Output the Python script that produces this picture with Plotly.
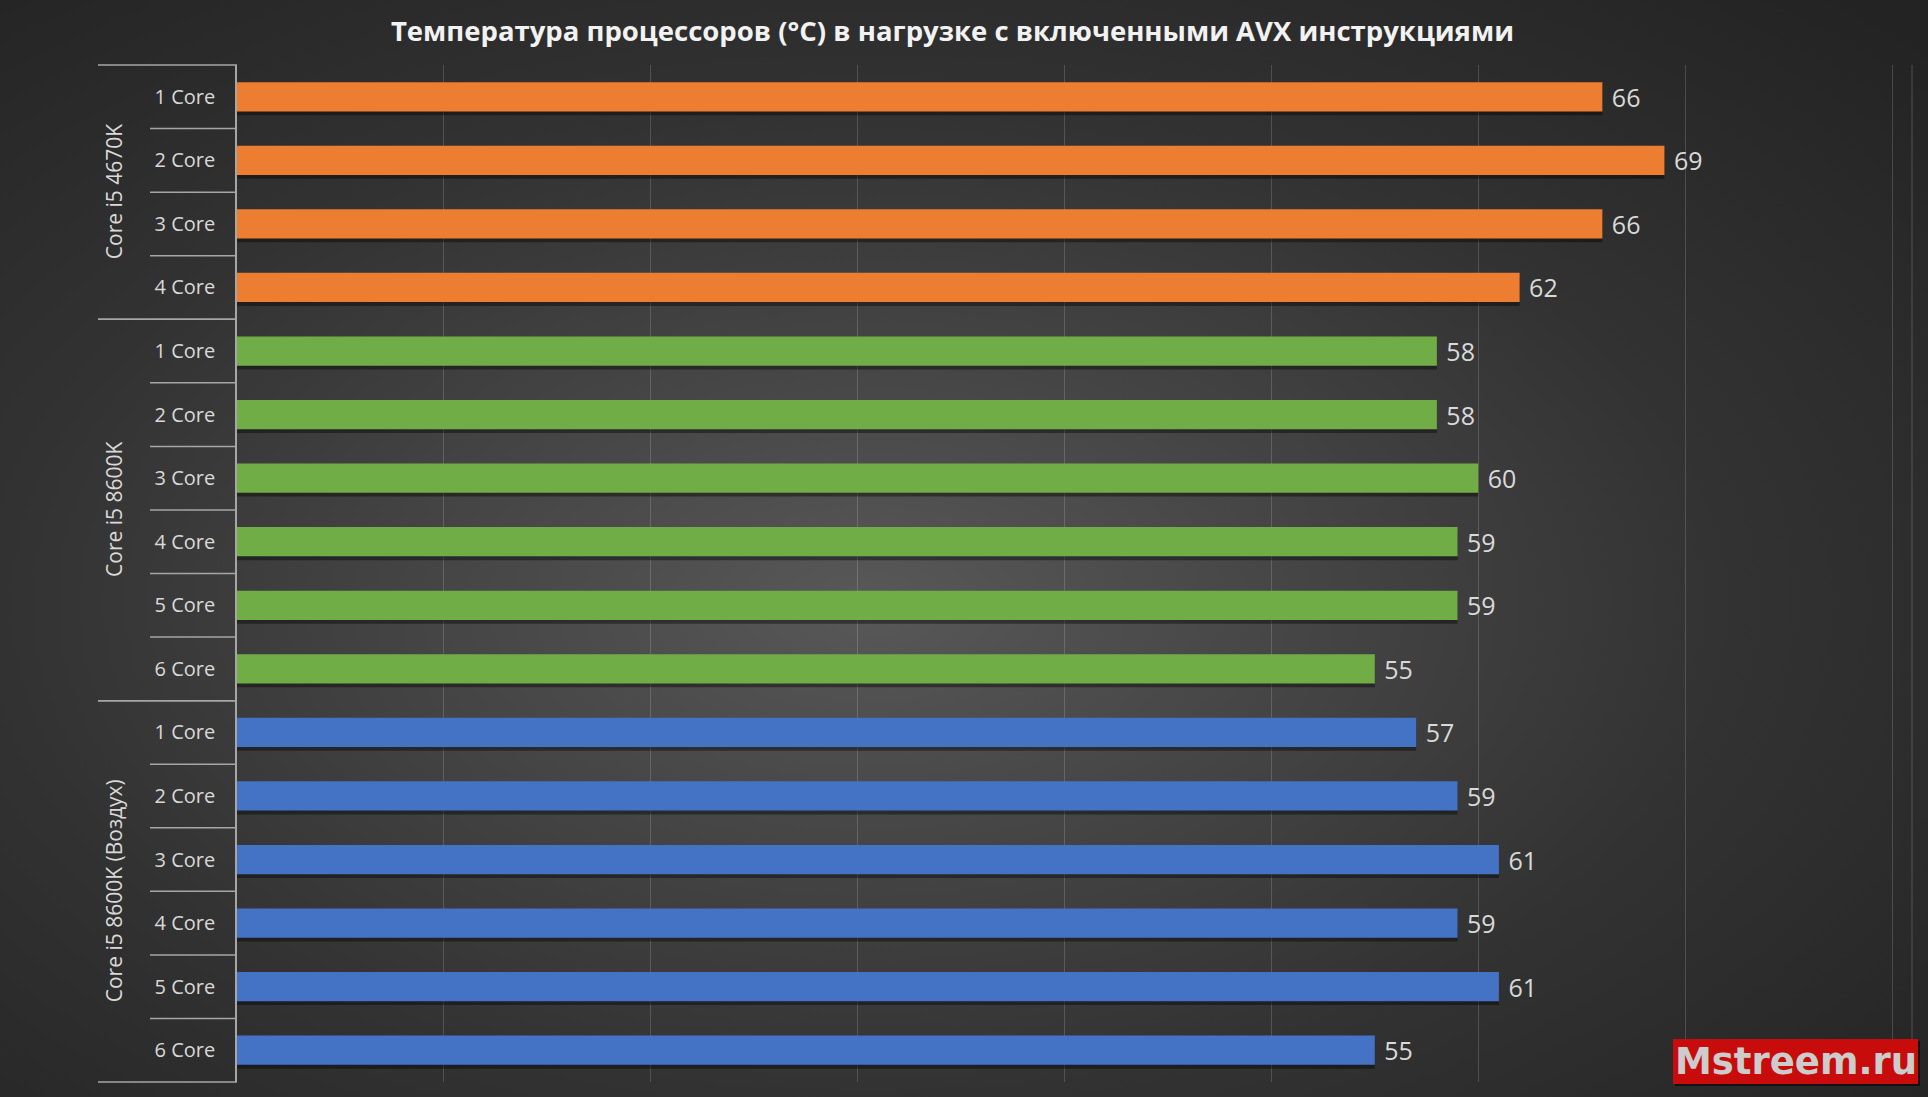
import base64
import plotly.graph_objects as go

# ---------------- data ----------------
title_text = "Температура процессоров (°C) в нагрузке с включенными AVX инструкциями"
groups = ["Core i5 4670K", "Core i5 8600K", "Core i5 8600K (Воздух)"]
cores_4670k = ["1 Core", "2 Core", "3 Core", "4 Core"]
cores_8600k = ["1 Core", "2 Core", "3 Core", "4 Core", "5 Core", "6 Core"]
cores_8600k_air = ["1 Core", "2 Core", "3 Core", "4 Core", "5 Core", "6 Core"]
temps_4670k = [66, 69, 66, 62]
temps_8600k = [58, 58, 60, 59, 59, 55]
temps_8600k_air = [57, 59, 61, 59, 61, 55]
group_colors = ["#ED7D31", "#70AD47", "#4472C4"]
x_ticks = [0, 10, 20, 30, 40, 50, 60, 70, 80]
watermark = "Mstreem.ru"

# ---------------- layout geometry (pixels) ----------------
W, H = 1928, 1097
L, R, T, B = 237, 1912, 65, 1082
PW, PH = R - L, B - T


def px_x(px):
    return (px - L) / PW


def px_y(py):
    return (B - py) / PH


cat_lists = [cores_4670k, cores_8600k, cores_8600k_air]
val_lists = [temps_4670k, temps_8600k, temps_8600k_air]
n_rows = sum(len(c) for c in cat_lists)
BAR_W = 0.46

fig = go.Figure()

tickvals, ticktext = [], []
start = 0
group_spans = []
for cats, vals, col in zip(cat_lists, val_lists, group_colors):
    ys = list(range(start, start + len(cats)))
    tickvals += ys
    ticktext += cats
    group_spans.append((start, start + len(cats)))
    # soft shadow
    fig.add_trace(go.Bar(
        x=vals, y=ys, orientation="h", width=BAR_W,
        offset=-BAR_W / 2 + 0.06,
        marker=dict(color="rgba(0,0,0,0.40)", line=dict(width=0)),
        hoverinfo="skip", showlegend=False,
    ))
    fig.add_trace(go.Bar(
        x=vals, y=ys, orientation="h", width=BAR_W,
        marker=dict(color=col, line=dict(width=0)),
        texttemplate=" %{x}", textposition="outside", constraintext="none",
        textfont=dict(family="Open Sans", size=25, color="#d9d9d9"),
        cliponaxis=False, showlegend=False,
    ))
    start += len(cats)


def row_boundary_paper(b):
    # b is a boundary in row units (-0.5 .. n_rows-0.5), axis reversed
    return (n_rows - 0.5 - b) / n_rows


shapes = []
line_col = "#a6a6a6"
for (s, e) in group_spans:
    for b in (s - 0.5, e - 0.5):
        yp = row_boundary_paper(b)
        shapes.append(dict(type="line", xref="paper", yref="paper",
                           x0=px_x(98), x1=0, y0=yp, y1=yp,
                           line=dict(color=line_col, width=1.5)))
    for k in range(s, e - 1):
        yp = row_boundary_paper(k + 0.5)
        shapes.append(dict(type="line", xref="paper", yref="paper",
                           x0=px_x(150), x1=0, y0=yp, y1=yp,
                           line=dict(color=line_col, width=1.5)))
shapes.append(dict(type="line", xref="paper", yref="paper", x0=1, x1=1, y0=0, y1=1,
                   line=dict(color="rgba(255,255,255,0.20)", width=1), layer="below"))
shapes.append(dict(type="rect", xref="paper", yref="paper",
                   x0=px_x(1675), x1=px_x(1920), y0=px_y(1086), y1=px_y(1041),
                   fillcolor="rgba(0,0,0,0.55)", line=dict(width=0)))
shapes.append(dict(type="rect", xref="paper", yref="paper",
                   x0=px_x(1673), x1=px_x(1918), y0=px_y(1084), y1=px_y(1039),
                   fillcolor="#c80c0c", line=dict(width=0)))

annotations = []
for g, (s, e) in zip(groups, group_spans):
    yc = (row_boundary_paper(s - 0.5) + row_boundary_paper(e - 0.5)) / 2
    annotations.append(dict(text=g, xref="paper", yref="paper", x=px_x(114), y=yc,
                            textangle=-90, showarrow=False, xanchor="center", yanchor="middle",
                            font=dict(family="Open Sans", size=21, color="#d9d9d9")))
annotations.append(dict(text="<b>" + watermark + "</b>", xref="paper", yref="paper",
                        x=px_x(1795.5), y=px_y(1061.5), showarrow=False,
                        xanchor="center", yanchor="middle",
                        font=dict(family="DejaVu Sans", size=37, color="#cccccc")))

svg = (
    f'<svg xmlns="http://www.w3.org/2000/svg" width="{W}" height="{H}" '
    f'viewBox="0 0 {W} {H}" preserveAspectRatio="none">'
    '<defs><radialGradient id="g" cx="0.45" cy="0.55" r="0.75">'
    '<stop offset="0" stop-color="#585858"/>'
    '<stop offset="0.6" stop-color="#323232"/>'
    '<stop offset="1" stop-color="#232323"/>'
    '</radialGradient></defs>'
    f'<rect width="{W}" height="{H}" fill="url(#g)"/></svg>'
)
svg_uri = "data:image/svg+xml;base64," + base64.b64encode(svg.encode()).decode()

fig.update_layout(
    width=W, height=H,
    margin=dict(l=L, r=W - R, t=T, b=H - B, pad=0),
    barmode="overlay",
    paper_bgcolor="#2b2b2b",
    plot_bgcolor="rgba(0,0,0,0)",
    title=dict(text="<b>" + title_text + "</b>", xref="container", yref="container",
               x=0.494, y=1 - 31 / H, xanchor="center", yanchor="middle",
               font=dict(family="Open Sans", size=27.5, color="#f2f2f2")),
    xaxis=dict(range=[0, 80 * PW / (1892 - L)], tickvals=x_ticks, showticklabels=False,
               showgrid=True, gridcolor="rgba(255,255,255,0.16)", gridwidth=1,
               zeroline=False, showline=False, ticks=""),
    yaxis=dict(range=[n_rows - 0.5, -0.5], tickvals=tickvals, ticktext=ticktext,
               showgrid=False, zeroline=False, showline=True, linecolor=line_col,
               linewidth=1.5, ticks="", ticklabelstandoff=16,
               tickfont=dict(family="Open Sans", size=20, color="#d9d9d9")),
    shapes=shapes,
    annotations=annotations,
    images=[dict(source=svg_uri, xref="paper", yref="paper",
                 x=px_x(0), y=px_y(0), sizex=W / PW, sizey=H / PH,
                 xanchor="left", yanchor="top", sizing="stretch", layer="below")],
)

fig.write_html(
    "out.html",
    config={"displayModeBar": False},
    post_script="document.body.style.margin='0';document.body.style.background='#2b2b2b';",
)
